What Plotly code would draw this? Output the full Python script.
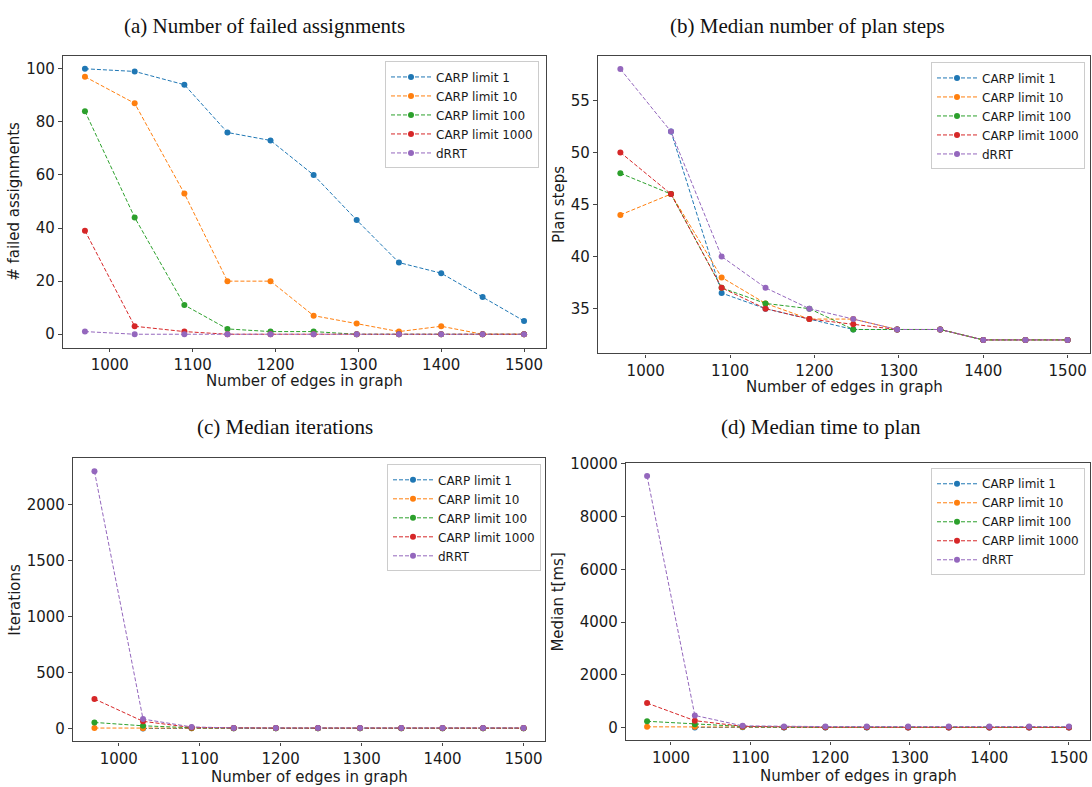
import plotly.graph_objects as go

# ---------------- data ----------------
edges = [970, 1030, 1090, 1142, 1194, 1246, 1298, 1349, 1400, 1450, 1500]
series_names = ["CARP limit 1", "CARP limit 10", "CARP limit 100", "CARP limit 1000", "dRRT"]
colors = ["#1f77b4", "#ff7f0e", "#2ca02c", "#d62728", "#9467bd"]

# (a) Number of failed assignments
failed_carp1 = [100, 99, 94, 76, 73, 60, 43, 27, 23, 14, 5]
failed_carp10 = [97, 87, 53, 20, 20, 7, 4, 1, 3, 0, 0]
failed_carp100 = [84, 44, 11, 2, 1, 1, 0, 0, 0, 0, 0]
failed_carp1000 = [39, 3, 1, 0, 0, 0, 0, 0, 0, 0, 0]
failed_drrt = [1, 0, 0, 0, 0, 0, 0, 0, 0, 0, 0]

# (b) Median number of plan steps
steps_carp1 = [None, 52, 36.5, 35, 34, 33, 33, 33, 32, 32, 32]
steps_carp10 = [44, 46, 38, 35.5, 34, 34, 33, 33, 32, 32, 32]
steps_carp100 = [48, 46, 37, 35.5, 35, 33, 33, 33, 32, 32, 32]
steps_carp1000 = [50, 46, 37, 35, 34, 33.5, 33, 33, 32, 32, 32]
steps_drrt = [58, 52, 40, 37, 35, 34, 33, 33, 32, 32, 32]

# (c) Median iterations
iter_carp1 = [None, 1, 2, 2, 2, 2, 2, 2, 2, 2, 2]
iter_carp10 = [5, 4, 4, 3, 3, 3, 3, 3, 3, 3, 3]
iter_carp100 = [55, 25, 8, 4, 4, 4, 4, 4, 4, 4, 4]
iter_carp1000 = [265, 65, 10, 5, 5, 5, 5, 5, 5, 5, 5]
iter_drrt = [2300, 85, 15, 6, 6, 6, 6, 6, 6, 6, 6]

# (d) Median time to plan [ms]
time_carp1 = [None, 15, 20, 15, 15, 15, 15, 15, 15, 15, 15]
time_carp10 = [37, 40, 30, 20, 20, 20, 20, 20, 20, 20, 20]
time_carp100 = [247, 136, 50, 25, 25, 25, 25, 25, 25, 25, 25]
time_carp1000 = [935, 270, 55, 25, 20, 20, 15, 15, 15, 15, 15]
time_drrt = [9530, 468, 74, 50, 45, 45, 45, 45, 45, 45, 45]

panel_titles = ["(a) Number of failed assignments", "(b) Median number of plan steps",
                "(c) Median iterations", "(d) Median time to plan"]
y_titles = ["# failed assignments", "Plan steps", "Iterations", "Median t[ms]"]
x_title = "Number of edges in graph"
x_ticks = [1000, 1100, 1200, 1300, 1400, 1500]
y_ticks = [[0, 20, 40, 60, 80, 100], [35, 40, 45, 50, 55], [0, 500, 1000, 1500, 2000],
           [0, 2000, 4000, 6000, 8000, 10000]]

panels = [
    [failed_carp1, failed_carp10, failed_carp100, failed_carp1000, failed_drrt],
    [steps_carp1, steps_carp10, steps_carp100, steps_carp1000, steps_drrt],
    [iter_carp1, iter_carp10, iter_carp100, iter_carp1000, iter_drrt],
    [time_carp1, time_carp10, time_carp100, time_carp1000, time_drrt],
]

# ---------------- layout geometry (pixels) ----------------
W, H = 1092, 787
# left, right, top, bottom of each axes box
boxes = [(63, 546, 48, 343), (598, 1090, 48, 349), (73, 545, 455, 741), (626, 1090, 460, 740)]
y_ranges = [[-5, 105], [30.7, 59.3], [-115, 2415], [-480, 10010]]
legend_pos = [(539, 54), (1085, 55), (541, 461), (1085, 465)]
title_pos = [(264, 18), (807, 18), (285, 423), (821, 423)]
xtitle_y = [377, 383, 777, 776]

fig = go.Figure()
layout = dict(
    width=W, height=H,
    margin=dict(l=0, r=0, t=0, b=0),
    paper_bgcolor="white", plot_bgcolor="white",
    font=dict(family="DejaVu Sans", color="#1a1a1a"),
    showlegend=True,
    annotations=[],
)

spine = "#444444"
for p in range(4):
    ax = "" if p == 0 else str(p + 1)
    lg = "legend" if p == 0 else "legend" + str(p + 1)
    for s in range(5):
        fig.add_trace(go.Scatter(
            x=edges, y=panels[p][s], name=series_names[s],
            mode="lines+markers",
            line=dict(color=colors[s], width=1, dash="4px,2px"),
            marker=dict(color=colors[s], size=6),
            xaxis="x" + ax, yaxis="y" + ax, legend=lg,
            connectgaps=False,
        ))
    l, r, t, b = boxes[p]
    layout["xaxis" + ax] = dict(
        domain=[l / W, r / W], anchor="y" + ax, range=[943.5, 1526.5],
        tickvals=x_ticks, ticktext=[str(v) for v in x_ticks],
        ticks="outside", ticklen=3, tickcolor=spine,
        showline=True, linecolor=spine, linewidth=1.2, mirror=True,
        showgrid=False, zeroline=False,
        tickfont=dict(size=15, color="#1a1a1a"),
    )
    layout["yaxis" + ax] = dict(
        domain=[1 - b / H, 1 - t / H], anchor="x" + ax, range=y_ranges[p],
        tickvals=y_ticks[p], ticktext=[str(v) for v in y_ticks[p]],
        ticks="outside", ticklen=4, tickcolor=spine,
        showline=True, linecolor=spine, linewidth=1.2, mirror=True,
        showgrid=False, zeroline=False,
        tickfont=dict(size=15, color="#1a1a1a"),
        title=dict(text=y_titles[p], font=dict(size=15, color="#1a1a1a"), standoff=2),
    )
    lx, ly = legend_pos[p]
    layout[lg] = dict(
        x=lx / W, y=1 - ly / H, xanchor="right", yanchor="top",
        bgcolor="white", bordercolor="#cccccc", borderwidth=1,
        font=dict(size=12, color="#1a1a1a"),
        itemwidth=40, tracegroupgap=0,
    )
    tx, ty = title_pos[p]
    layout["annotations"].append(dict(
        text=panel_titles[p], x=tx / W, y=1 - ty / H, xref="paper", yref="paper",
        xanchor="center", yanchor="middle", showarrow=False,
        font=dict(family="Liberation Serif", size=21, color="#111111"),
    ))
    layout["annotations"].append(dict(
        text=x_title, x=(l + r) / 2 / W, y=1 - xtitle_y[p] / H, xref="paper", yref="paper",
        xanchor="center", yanchor="middle", showarrow=False,
        font=dict(size=15, color="#1a1a1a"),
    ))

fig.update_layout(**layout)
fig.write_html(
    "out.html",
    config={"displayModeBar": False},
    post_script=(
        "document.body.style.margin='0px';document.body.style.padding='0px';"
        "document.body.style.overflow='hidden';"
        "var gd=document.getElementById('{plot_id}');"
        "gd.style.position='absolute';gd.style.top='0px';gd.style.left='0px';"
    ),
)
